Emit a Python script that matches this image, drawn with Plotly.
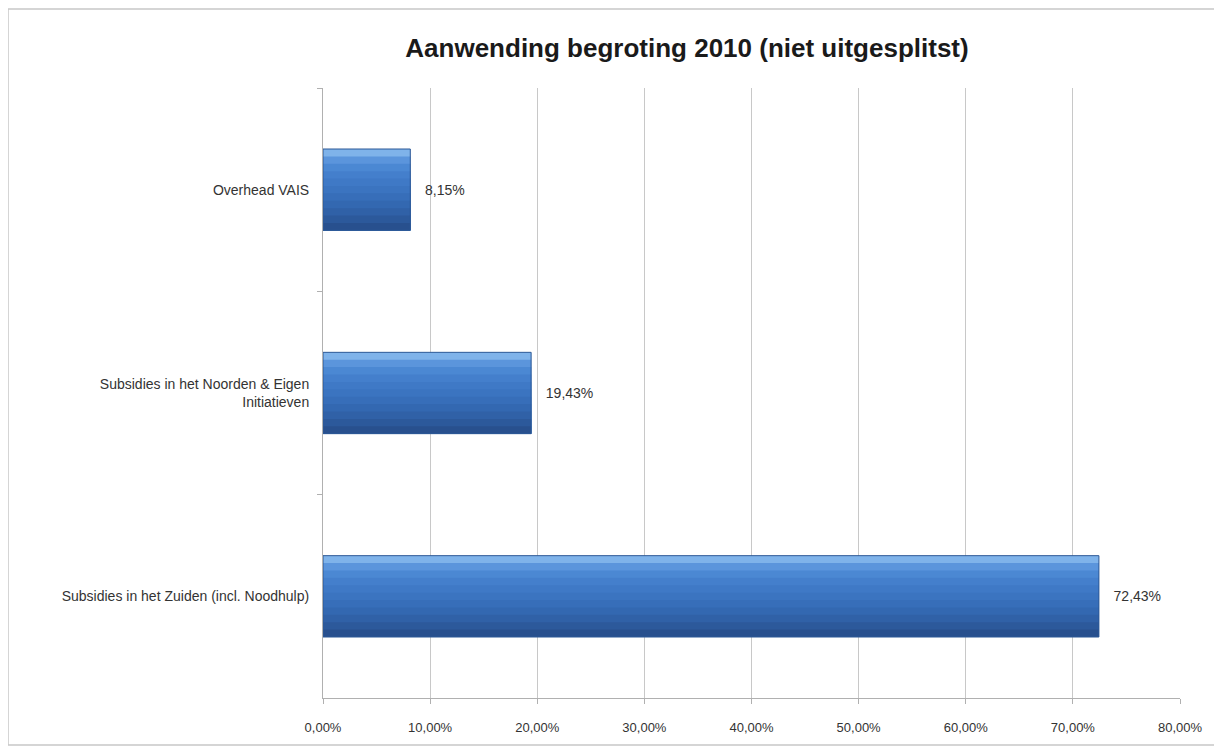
import plotly.graph_objects as go

categories = [
    "Overhead VAIS",
    "Subsidies in het Noorden & Eigen<br>Initiatieven",
    "Subsidies in het Zuiden (incl. Noodhulp)",
]
values = [0.0815, 0.1943, 0.7243]
value_labels = ["8,15%", "19,43%", "72,43%"]
title_text = "Aanwending begroting 2010 (niet uitgesplitst)"

W, H = 1222, 747
OX, OY = 7, 8  # page offset observed in render
ml, mr, mt, mb = 322 - OX, 43 + OX, 88 - OY, 49 + OY
pw, ph = W - ml - mr, H - mt - mb

def px_x(x):
    return (x - OX - ml) / pw

def px_y(y):
    return (H - mb - (y - OY)) / ph

FONT = "Liberation Sans, Arial, sans-serif"
BAR_W = 0.4
# vertical gradient (top -> bottom) for the bar fill
strip_colors = ["#7fb3ea", "#5b95dc", "#4b88d3", "#447fcc", "#3f79c6",
                "#3b74c0", "#376eb9", "#3368b1", "#3061a7", "#2c599b", "#28508e"]
n = len(strip_colors)

fig = go.Figure()
for i, c in enumerate(strip_colors):
    start = -BAR_W / 2 + i * BAR_W / n
    fig.add_trace(go.Bar(
        y=categories, x=values, orientation="h",
        width=BAR_W / 2 - start, offset=start,
        marker=dict(color=c, line=dict(width=0)),
        hoverinfo="skip", showlegend=False,
    ))
fig.add_trace(go.Bar(
    y=categories, x=values, orientation="h",
    width=BAR_W,
    marker=dict(color="rgba(0,0,0,0)", line=dict(color="#2c5896", width=1)),
    text=["   " + t for t in value_labels],
    textposition="outside",
    textfont=dict(family=FONT, size=14, color="#333333"),
    cliponaxis=False,
    hoverinfo="skip", showlegend=False,
))

fig.update_layout(
    width=W, height=H,
    barmode="overlay",
    margin=dict(l=ml, r=mr, t=mt, b=mb, pad=0),
    paper_bgcolor="#ffffff",
    plot_bgcolor="#ffffff",
    separators=",.",
    showlegend=False,
    font=dict(family=FONT, size=13, color="#333333"),
    title=dict(
        text="<b>" + title_text + "</b>",
        x=(686 - OX) / W, xanchor="center",
        y=1 - (48 - OY) / H, yanchor="middle",
        font=dict(family=FONT, size=26, color="#1a1a1a"),
    ),
    xaxis=dict(
        range=[0, 0.8], dtick=0.1, tickformat=".2%",
        showgrid=True, gridcolor="#c8c8c8", gridwidth=1,
        showline=True, linecolor="#b0b0b0", linewidth=1,
        ticks="outside", ticklen=5, tickcolor="#b0b0b0",
        zeroline=False, fixedrange=True,
        ticklabelstandoff=12,
        tickfont=dict(family=FONT, size=13, color="#333333"),
    ),
    yaxis=dict(
        categoryorder="array", categoryarray=categories,
        autorange="reversed",
        showline=True, linecolor="#b0b0b0", linewidth=1,
        ticks="outside", ticklen=5, tickcolor="#b0b0b0",
        tickson="boundaries", showgrid=False,
        ticklabelstandoff=10,
        tickfont=dict(family=FONT, size=14, color="#333333"),
    ),
)

fig.add_shape(
    type="rect", xref="paper", yref="paper",
    x0=px_x(7), x1=px_x(1218), y0=px_y(745), y1=px_y(9),
    line=dict(color="#c8c8c8", width=1.5), fillcolor="rgba(0,0,0,0)",
    layer="below",
)

fig.write_html("out.html")
